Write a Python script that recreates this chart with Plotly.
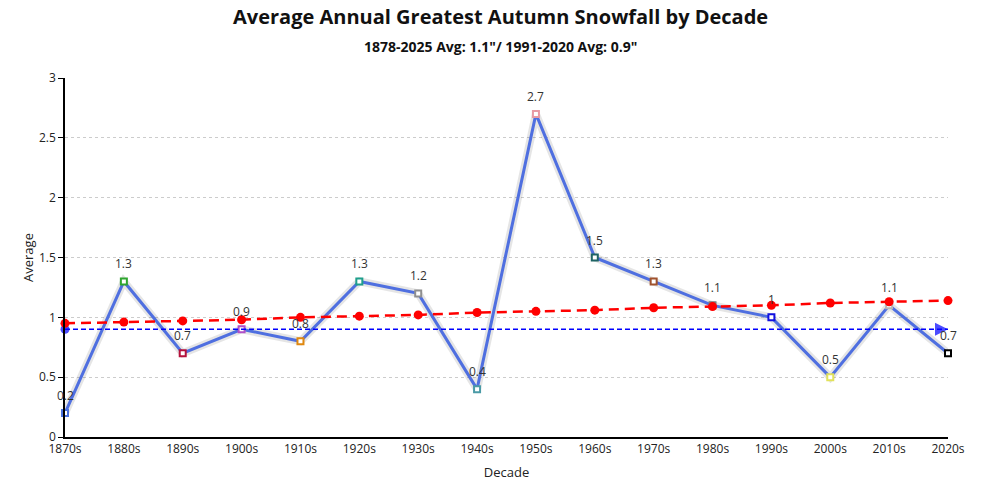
import plotly.graph_objects as go

decades = ["1870s", "1880s", "1890s", "1900s", "1910s", "1920s", "1930s", "1940s",
           "1950s", "1960s", "1970s", "1980s", "1990s", "2000s", "2010s", "2020s"]
averages = [0.2, 1.3, 0.7, 0.9, 0.8, 1.3, 1.2, 0.4, 2.7, 1.5, 1.3, 1.1, 1.0, 0.5, 1.1, 0.7]
labels = ["0.2", "1.3", "0.7", "0.9", "0.8", "1.3", "1.2", "0.4", "2.7", "1.5", "1.3", "1.1", "1", "0.5", "1.1", "0.7"]
point_colors = ["#4a72e0", "#2fa52f", "#b5123c", "#b050c8", "#e0880f", "#1f9f8c", "#8f8f8f", "#4a9aa6",
                "#e89aa4", "#1e6464", "#a0522d", "#7a7a7a", "#1010e0", "#e2e25a", "#b8b8b8", "#000000"]
trend = [0.95, 0.96, 0.97, 0.98, 1.00, 1.01, 1.02, 1.04, 1.05, 1.06, 1.08, 1.09, 1.10, 1.12, 1.13, 1.14]
normal_value = 0.9
normal_span = [decades[0], decades[-1]]

title_text = "Average Annual Greatest Autumn Snowfall by Decade"
subtitle_text = "1878-2025 Avg: 1.1\"/ 1991-2020 Avg: 0.9\""

FONT = "Open Sans, Noto Sans, sans-serif"

fig = go.Figure()

# soft shadow under the main line
fig.add_trace(go.Scatter(
    x=decades, y=averages, mode="lines",
    line=dict(color="rgba(0,0,0,0.10)", width=8),
    hoverinfo="skip", showlegend=False, cliponaxis=False,
))

# main series
fig.add_trace(go.Scatter(
    x=decades, y=averages, mode="lines+markers",
    line=dict(color="#4f6fe0", width=3),
    marker=dict(symbol="square", size=6, color="white",
                line=dict(color=point_colors, width=2)),
    showlegend=False, cliponaxis=False,
))

# 1991-2020 normal line
fig.add_trace(go.Scatter(
    x=normal_span, y=[normal_value, normal_value], mode="lines+markers",
    line=dict(color="#0000ff", width=1.5, dash="5px,3px"),
    marker=dict(symbol=["circle", "arrow-right"], size=[9, 13], color="#0000ff",
                line=dict(width=0)),
    showlegend=False, cliponaxis=False,
))

# trend line
fig.add_trace(go.Scatter(
    x=decades, y=trend, mode="lines+markers",
    line=dict(color="#ff0000", width=2.5, dash="10px,6px"),
    marker=dict(symbol="circle", size=9, color="#ff0000"),
    showlegend=False, cliponaxis=False,
))

W, H = 1000, 500
L, R, T, B = 57, 60, 70, 71
pw, ph = W - L - R, H - T - B


def px_x(px):
    return (px - L) / pw


def px_y(py):
    return (H - B - py) / ph


value_labels = [
    dict(x=d, y=v, text=t, xref="x", yref="y", showarrow=False,
         yanchor="bottom", yshift=7, font=dict(size=12, color="#333333", family=FONT))
    for d, v, t in zip(decades, averages, labels)
]

fig.update_layout(
    width=W, height=H,
    margin=dict(l=L, r=R, t=T, b=B, autoexpand=False),
    paper_bgcolor="white", plot_bgcolor="white",
    font=dict(family=FONT, size=12, color="#222222"),
    xaxis=dict(
        type="category", range=[0, len(decades) - 1],
        showline=True, linecolor="#000000", linewidth=1.5,
        showgrid=False, ticks="", zeroline=False,
        tickfont=dict(size=12, color="#222222"),
        title=dict(text="Decade", font=dict(size=13), standoff=12),
    ),
    yaxis=dict(
        range=[0, 3], dtick=0.5,
        showline=True, linecolor="#000000", linewidth=1.5,
        showgrid=True, gridcolor="#cccccc", griddash="dot", gridwidth=1,
        ticks="outside", ticklen=5, tickcolor="#000000",
        zeroline=False,
        tickfont=dict(size=12, color="#222222"),
        title=dict(text="Average", font=dict(size=13), standoff=2),
    ),
    annotations=value_labels + [
        dict(text="<b>" + title_text + "</b>", xref="paper", yref="paper",
             x=px_x(492), y=px_y(9), xanchor="center", yanchor="middle",
             showarrow=False, font=dict(size=20, color="#111111", family=FONT)),
        dict(text="<b>" + subtitle_text + "</b>", xref="paper", yref="paper",
             x=px_x(492), y=px_y(38), xanchor="center", yanchor="middle",
             showarrow=False, font=dict(size=14, color="#111111", family=FONT)),
    ],
)

fig.write_html("out.html")
